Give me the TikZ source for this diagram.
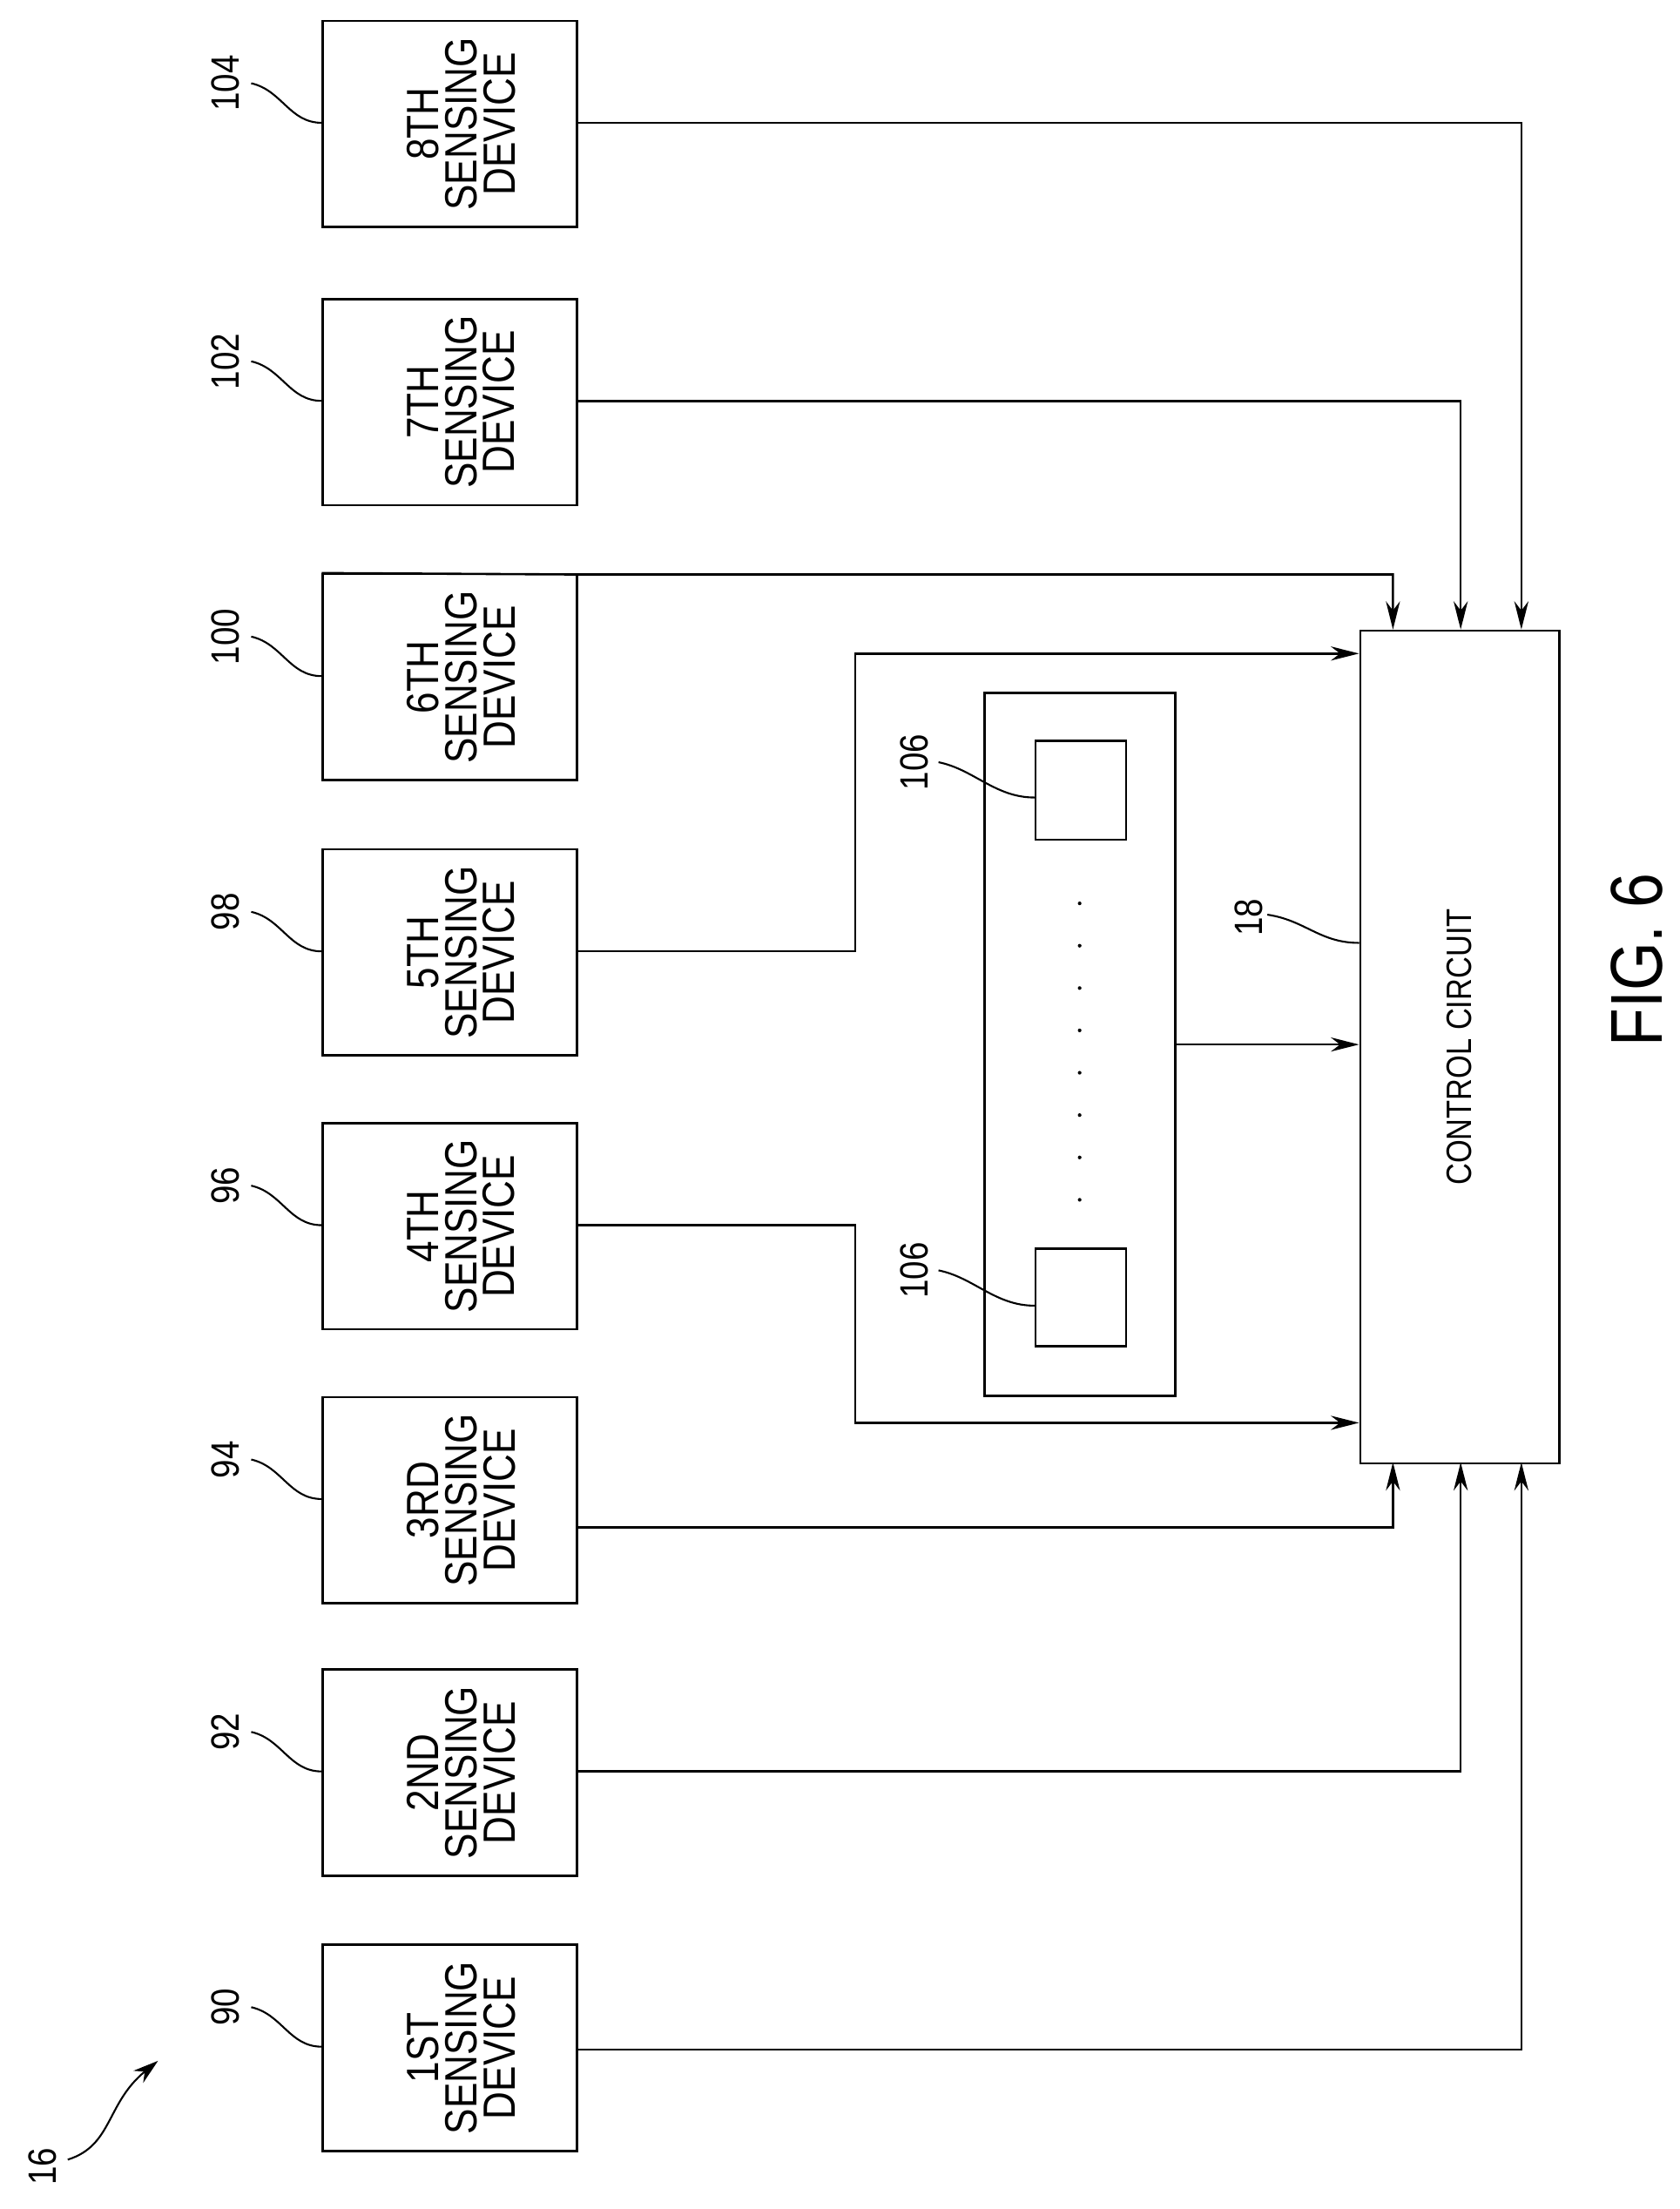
\documentclass[tikz,border=0pt]{standalone}
\usepackage{fontspec}
\setmainfont{Liberation Sans}[FakeStretch=0.85]
\usetikzlibrary{arrows.meta}
\begin{document}
\begin{tikzpicture}[x=1pt,y=-1pt,
  box/.style={draw,line width=1.6pt,minimum width=180pt,minimum height=146pt,inner sep=0},
  dev/.style={rotate=90,align=center,font=\fontsize{32}{27}\selectfont},
  lab/.style={rotate=90,font=\fontsize{28}{28}\selectfont},
  con/.style={line width=1.6pt,-{Stealth[length=20pt,width=10pt]}},
  lead/.style={line width=1.3pt}]
\useasboundingbox (0,0) rectangle (1190,1565);
\foreach \n/\t/\y/\l in {8/8TH/14/104,7/7TH/211/102,6/6TH/406/100,5/5TH/601/98,4/4TH/795/96,3/3RD/989/94,2/2ND/1182/92,1/1ST/1377/90}{
  \node[box,anchor=north west] (s\n) at (228,\y) {};
  \node[dev] at ([xshift=8pt]s\n.center) {\t\\SENSING\\DEVICE};
  \node[lab] (l\n) at (160,\y+45) {\l};
  \draw[lead] (178,\y+45) .. controls (200,\y+50) and (205,\y+73) .. (228,\y+73);
}
\node[draw,line width=1.6pt,anchor=north west,minimum width=141pt,minimum height=590pt,inner sep=0] (cc) at (963,446) {};
\node[rotate=90,font=\fontsize{25}{25}\selectfont] at (cc.center) {CONTROL CIRCUIT};
\node[draw,line width=1.6pt,anchor=north west,minimum width=135pt,minimum height=498pt,inner sep=0] (mem) at (697,490) {};
\node[draw,line width=1.6pt,anchor=north west,minimum width=64pt,minimum height=70pt,inner sep=0] (m1) at (733,524) {};
\node[draw,line width=1.6pt,anchor=north west,minimum width=64pt,minimum height=69pt,inner sep=0] (m2) at (733,884) {};
\foreach \k in {0,...,7} \fill (765,640+\k*30) circle (1.3pt);
\node[lab] at (648,540) {106};
\draw[lead] (665,540) .. controls (690,545) and (705,565) .. (733,565);
\node[lab] at (648,900) {106};
\draw[lead] (665,900) .. controls (690,905) and (705,925) .. (733,925);
\node[lab] at (885,650) {18};
\draw[lead] (898,648) .. controls (925,652) and (935,668) .. (963,668);
\node[lab] at (30,1535) {16};
\draw[lead,-{Stealth[length=18pt,width=11pt]}] (48,1530) .. controls (80,1520) and (75,1490) .. (112,1460);
\node[rotate=90,font=\fontsize{52}{52}\selectfont] at (1160,680) {FIG. 6};
% connectors
\draw[con] (s8.east |- 0,87) -| (1078,446);
\draw[con] (s7.east |- 0,284) -| (1035,446);
\draw[con] (s6.north west) -- (408,407) -| (987,446);
\draw[con] (s5.east |- 0,674) -- (606,674) |- (963,463);
\draw[con] (s4.east |- 0,868) -- (606,868) |- (963,1008);
\draw[con] (s3.east |- 0,1082) -| (987,1036);
\draw[con] (s2.east |- 0,1255) -| (1035,1036);
\draw[con] (s1.east |- 0,1452) -| (1078,1036);
\draw[con] (mem.east |- 0,740) -- (963,740);
\end{tikzpicture}
\end{document}
